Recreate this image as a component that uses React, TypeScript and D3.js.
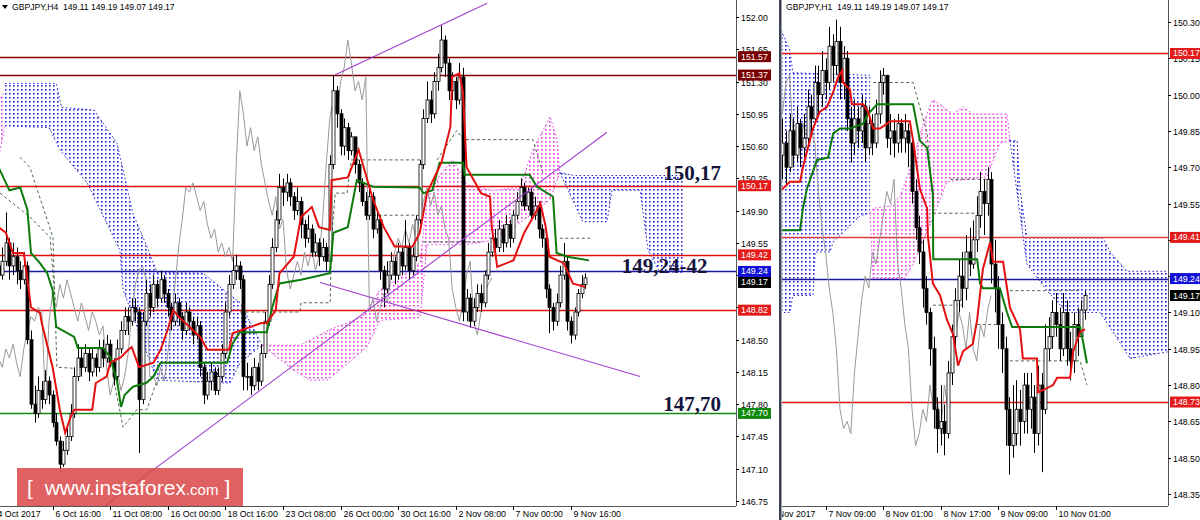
import * as d3 from "d3";
import { useEffect, useRef } from "react";

type Pt = [number, number];

// ---------- GBPJPY H4 (left panel) ----------
const h4FirstOpen = 149.4;
const h4Close = [
  149.30, 149.20, 149.35, 149.55, 149.30, 149.40, 149.25, 149.15, 149.30, 148.50,
  147.80, 147.70, 147.95, 147.85, 148.05, 147.90, 147.60, 147.40, 147.15, 147.30,
  147.45, 147.70, 148.10, 148.30, 148.20, 148.35, 148.15, 148.30, 148.20, 148.40,
  148.30, 148.45, 148.25, 148.10, 148.40, 148.60, 148.75, 148.70, 148.85, 148.80,
  147.85, 148.70, 149.00, 148.85, 149.10, 148.95, 149.15, 149.00, 148.85, 148.70,
  148.90, 148.75, 148.60, 148.80, 148.70, 148.55, 148.65, 148.20, 147.90, 148.05,
  148.15, 147.95, 148.10, 148.35, 148.80, 149.10, 149.25, 149.30, 149.15, 148.10,
  148.10, 148.00, 148.20, 148.05, 148.35, 148.70, 149.10, 149.50, 149.80, 150.15,
  150.10, 150.20, 150.05, 149.90, 150.00, 149.75, 149.60, 149.70, 149.45, 149.55,
  149.40, 149.50, 149.35, 150.40, 151.20, 150.95, 150.60, 150.80, 150.55, 150.70,
  150.40, 150.20, 150.00, 149.85, 150.05, 149.70, 149.80, 149.25, 149.05, 149.20,
  149.35, 149.20, 149.45, 149.30, 149.50, 149.25, 149.40, 149.80, 150.40, 150.90,
  151.10, 150.95, 151.30, 151.45, 151.75, 151.50, 151.20, 151.30, 151.10, 151.35,
  148.80, 148.95, 148.70, 148.85, 149.00, 148.90, 149.20, 149.45, 149.60, 149.50,
  149.70, 149.55, 149.75, 149.60, 149.85, 150.00, 150.15, 149.95, 150.10, 149.85,
  149.95, 149.70, 149.60, 149.05, 148.85, 148.70, 148.90, 149.20, 149.35, 148.70,
  148.55, 148.80, 149.00, 149.10, 149.17,
];
const h4High = [
  149.55, 149.40, 149.50, 149.88, 149.60, 149.55, 149.50, 149.35, 149.45, 149.35,
  148.60, 148.00, 148.10, 148.05, 148.17, 148.10, 147.95, 147.70, 147.45, 147.40,
  147.55, 147.80, 148.20, 148.45, 148.40, 148.45, 148.40, 148.40, 148.35, 148.50,
  148.50, 148.55, 148.50, 148.30, 148.50, 148.70, 148.85, 148.85, 148.95, 148.95,
  148.85, 148.80, 149.15, 149.10, 149.20, 149.15, 149.25, 149.20, 149.05, 148.90,
  149.00, 148.95, 148.80, 148.90, 148.85, 148.75, 148.75, 148.70, 148.25, 148.15,
  148.25, 148.20, 148.20, 148.45, 148.90, 149.20, 149.40, 149.42, 149.35, 149.20,
  148.25, 148.20, 148.30, 148.25, 148.45, 148.80, 149.20, 149.60, 149.90, 150.30,
  150.25, 150.30, 150.25, 150.10, 150.15, 150.05, 149.80, 149.85, 149.75, 149.65,
  149.60, 149.60, 149.55, 150.50, 151.37, 151.25, 151.00, 150.90, 150.85, 150.75,
  150.70, 150.45, 150.25, 150.10, 150.15, 150.10, 149.90, 149.85, 149.30, 149.35,
  149.45, 149.40, 149.55, 149.50, 149.80, 149.55, 149.50, 149.85, 150.45, 151.00,
  151.30, 151.20, 151.40, 151.60, 151.91, 151.80, 151.55, 151.40, 151.35, 151.50,
  151.45, 149.05, 149.00, 148.95, 149.10, 149.10, 149.25, 149.55, 149.70, 149.70,
  149.80, 149.75, 149.85, 149.80, 149.90, 150.10, 150.25, 150.20, 150.15, 150.15,
  150.05, 150.00, 149.75, 149.65, 149.10, 148.90, 149.00, 149.30, 149.55, 149.40,
  148.75, 148.85, 149.05, 149.20, 149.22,
];
const h4Low = [
  149.10, 149.05, 149.15, 149.30, 149.15, 149.20, 149.10, 149.05, 149.10, 148.45,
  147.75, 147.60, 147.65, 147.75, 147.80, 147.80, 147.55, 147.35, 147.09, 147.12,
  147.25, 147.40, 147.65, 148.05, 148.10, 148.15, 148.05, 148.10, 148.10, 148.15,
  148.20, 148.25, 148.20, 148.00, 148.05, 148.35, 148.55, 148.55, 148.65, 148.70,
  147.27, 147.80, 148.65, 148.75, 148.80, 148.85, 148.90, 148.90, 148.75, 148.60,
  148.65, 148.65, 148.50, 148.55, 148.60, 148.45, 148.50, 148.10, 147.80, 147.85,
  147.95, 147.90, 147.90, 148.05, 148.30, 148.75, 149.05, 149.15, 149.05, 147.95,
  147.95, 147.90, 147.95, 147.95, 148.00, 148.30, 148.65, 149.05, 149.45, 149.75,
  149.95, 150.00, 149.95, 149.80, 149.85, 149.60, 149.50, 149.55, 149.40, 149.40,
  149.30, 149.35, 149.25, 149.30, 150.35, 150.80, 150.50, 150.50, 150.45, 150.50,
  150.30, 150.10, 149.95, 149.80, 149.80, 149.60, 149.65, 149.15, 148.85, 149.00,
  149.15, 149.10, 149.15, 149.20, 149.25, 149.15, 149.20, 149.35, 149.75, 150.35,
  150.85, 150.85, 150.90, 151.20, 151.40, 151.35, 151.10, 151.10, 151.00, 151.05,
  148.70, 148.70, 148.63, 148.65, 148.80, 148.80, 148.85, 149.15, 149.40, 149.40,
  149.45, 149.45, 149.50, 149.50, 149.55, 149.80, 149.95, 149.90, 149.90, 149.80,
  149.80, 149.60, 149.50, 148.95, 148.57, 148.60, 148.65, 148.85, 149.15, 148.60,
  148.46, 148.50, 148.75, 148.95, 149.05,
];
const h4Tenkan: Pt[] = [
  [1, 149.72], [3, 149.66], [5, 149.44], [8, 149.44], [10, 148.85], [12.5, 148.79], [13, 148.68],
  [16, 148.2], [18, 147.74], [19.5, 147.49], [21, 147.66], [22, 147.74], [27, 147.74], [28, 148.03],
  [31, 148.1], [32, 148.25], [35, 148.31], [37, 148.39], [38, 148.42], [40, 148.2], [44, 148.25],
  [46, 148.39], [48, 148.61], [49.5, 148.82], [51, 148.75], [57, 148.53], [59, 148.39], [65, 148.39],
  [66, 148.57], [74, 148.68], [75.5, 148.68], [78, 148.82], [79, 149.22], [83, 149.4], [85, 149.83],
  [88, 149.94], [90, 149.72], [93, 149.69], [93.5, 150.23], [98, 150.26], [101, 150.56], [105, 150.02],
  [108, 149.72], [111, 149.51], [116, 149.51], [118, 149.66], [120, 150.09], [124, 150.42],
  [126.5, 150.81], [127, 151.35], [129, 151.39], [130, 151.18], [131, 150.37], [135, 150.09],
  [137.5, 150.05], [138, 149.72], [139.5, 149.29], [144, 149.36], [147, 149.66], [149.5, 149.83],
  [151.5, 149.98], [153, 149.72], [154, 149.4], [158, 149.33], [160.5, 149.11], [164, 149.07],
];
const h4Kijun: Pt[] = [
  [1, 150.37], [4, 150.12], [7, 150.15], [9, 149.91], [10, 149.44], [12.5, 149.33], [14.5, 149.22],
  [16, 149.04], [17, 148.64], [22, 148.53], [23, 148.41], [30, 148.41], [32, 148.31], [34, 148.03],
  [35, 147.77], [36, 147.9], [38.3, 147.99], [42, 148.03], [44, 148.1], [46, 148.25], [64.5, 148.25],
  [66, 148.46], [68, 148.58], [75.5, 148.58], [77, 148.85], [79, 149.11], [85, 149.15], [93, 149.22],
  [94, 149.66], [98, 149.72], [100.5, 150.23], [105, 150.16], [118, 150.15], [119, 150.09],
  [121.5, 150.12], [123.5, 150.42], [130, 150.42], [130.5, 150.29], [148.5, 150.29], [150.5, 150.16],
  [155, 150.05], [156, 149.44], [159, 149.4], [165, 149.36],
];
const h4CloudPinkA = { top: [[-2, 150.9], [2.8, 151.2]] as Pt[], bot: [[-2, 149.9], [2.8, 150.82]] as Pt[] };
const h4CloudBlueA = {
  top: [[2.8, 151.28], [17, 151.28], [18.5, 151.02], [27.5, 150.99], [33.9, 150.63], [38.3, 149.87],
    [42.2, 149.51], [45, 149.23], [57.8, 149.22], [68.1, 148.9], [74.2, 148.44]] as Pt[],
  bot: [[2.8, 150.82], [15, 150.8], [18, 150.56], [25.6, 150.2], [34.7, 149.47], [35.6, 149.04],
    [45, 148.06], [65.3, 148.03], [68.1, 148.25], [74.2, 148.44]] as Pt[],
};
const h4CloudPinkB = {
  top: [[74.2, 148.44], [84.7, 148.44], [93.1, 148.61], [102.2, 148.75], [106.9, 149.04], [112.5, 149.17],
    [118.1, 149.34], [120, 150.02], [123.6, 150.29], [127.2, 150.45], [131.1, 150.18], [138.3, 150.12],
    [145.8, 150.15], [149.4, 150.56], [154.2, 150.92], [156.1, 150.67], [156.9, 150.31]] as Pt[],
  bot: [[74.2, 148.44], [82.8, 148.17], [87.5, 148.06], [92.2, 148.06], [95.8, 148.17], [103.3, 148.42],
    [106.9, 148.71], [118.1, 148.74], [120, 149.53], [131.1, 149.53], [138.3, 149.58], [143.9, 149.71],
    [148.6, 149.85], [154.2, 150.02], [156.9, 150.31]] as Pt[],
};
const h4CloudBlueB = {
  top: [[156.9, 150.31], [161.1, 150.28], [191.1, 150.28]] as Pt[],
  bot: [[156.9, 150.31], [163.3, 149.78], [170, 149.78], [171.4, 150.12], [179.2, 150.12], [181.4, 149.47],
    [184.7, 149.23], [191.1, 149.23]] as Pt[],
};
const h4Dashed: Pt[][] = [
  [[6.9, 150.48], [9.7, 150.37], [16.1, 149.61], [17.2, 148.2], [21.7, 148.19]],
  [[1.4, 150.09], [9.7, 149.83], [15.3, 149.61], [16.7, 148.93]],
  [[32.8, 148.1], [35.6, 147.55], [39.4, 147.74], [42.2, 147.74], [45, 148.06]],
  [[68.1, 148.8], [84.7, 148.8], [85, 148.9], [93.1, 148.9], [93.5, 149.58], [94.5, 150.09], [97.8, 150.09],
    [99, 150.45], [118.1, 150.45]],
  [[105, 149.85], [118.1, 149.85]],
  [[118.9, 149.56], [134.7, 149.56]],
  [[122.8, 150.45], [128.3, 150.77], [130, 150.67], [149.4, 150.67], [152.2, 150.31]],
  [[156.9, 149.6], [165.3, 149.6]],
];
const h4Trend: Pt[][] = [
  [[94.4, 151.37], [136.7, 152.15]],
  [[30.6, 146.7], [170, 150.75]],
  [[90.3, 149.12], [179.2, 148.1]],
];
const h4Levels = [151.57, 151.37, 150.17, 149.42, 149.24, 148.82, 147.7];
const h4LevelColors = ["#800000", "#800000", "#e01010", "#e01010", "#1a1a9a", "#e01010", "#138a13"];
const h4Tags = [151.57, 151.37, 150.17, 149.42, 149.24, 149.17, 148.82, 147.7];
const h4TagColors = ["#7a0000", "#7a0000", "#e41b1b", "#e41b1b", "#1010d8", "#000000", "#e41b1b", "#108a10"];
const h4Ticks = [152.0, 151.65, 151.3, 150.95, 150.6, 150.25, 149.9, 149.55, 149.2, 148.85, 148.5, 148.15, 147.8, 147.45, 147.1, 146.75];
const h4DateIdx = [0, 16, 32, 48, 64, 80, 96, 112, 128, 144, 160];
const h4DateText = ["4 Oct 2017", "6 Oct 16:00", "11 Oct 08:00", "16 Oct 00:00", "18 Oct 16:00", "23 Oct 08:00",
  "26 Oct 00:00", "30 Oct 16:00", "2 Nov 08:00", "7 Nov 00:00", "9 Nov 16:00"];
const h4Notes = ["150,17", "149,24-42", "147,70"];
const h4NoteAt: Pt[] = [[185.6, 150.23], [174.1, 149.22], [185.6, 147.73]];

// ---------- GBPJPY H1 (right panel), bars from index -12 ----------
const h1Start = -12;
const h1FirstOpen = 149.75;
const h1Close = [
  149.80, 149.70, 149.85, 149.75, 149.88, 149.78, 149.82, 149.95, 149.90, 150.05,
  150.00, 150.10, 150.05, 150.20, 150.12, 150.22, 150.05, 150.15, 149.90, 149.80,
  149.90, 149.85, 149.95, 149.78, 149.88, 149.80, 149.92, 150.05, 150.08, 149.82,
  149.85, 149.80, 149.88, 149.82, 149.85, 149.80, 149.60, 149.45, 149.35, 149.20,
  149.10, 148.95, 148.70, 148.62, 148.65, 148.60, 148.85, 149.00, 149.15, 149.25,
  149.20, 149.35, 149.30, 149.40, 149.50, 149.60, 149.55, 149.65, 149.30, 149.20,
  149.05, 148.95, 148.70, 148.55, 148.60, 148.70, 148.65, 148.80, 148.70, 148.75,
  148.60, 148.80, 148.70, 148.95, 149.00, 149.10, 149.05, 148.95, 149.10, 148.95,
  148.90, 149.05, 149.00, 149.11, 149.17,
];
const h1High = [
  149.90, 149.85, 149.92, 149.90, 149.95, 149.90, 149.92, 150.02, 150.00, 150.12,
  150.12, 150.18, 150.15, 150.28, 150.25, 150.31, 150.28, 150.20, 150.18, 149.95,
  149.98, 149.95, 150.00, 149.98, 149.95, 149.92, 149.98, 150.10, 150.11, 150.08,
  149.92, 149.90, 149.92, 149.90, 149.92, 149.88, 149.82, 149.65, 149.50, 149.40,
  149.25, 149.12, 149.00, 148.75, 148.80, 148.72, 148.90, 149.05, 149.20, 149.32,
  149.35, 149.42, 149.45, 149.48, 149.58, 149.68, 149.65, 149.70, 149.68, 149.40,
  149.25, 149.10, 149.00, 148.75, 148.80, 148.82, 148.78, 148.85, 148.85, 148.85,
  148.80, 148.88, 148.85, 149.05, 149.08, 149.15, 149.18, 149.12, 149.18, 149.15,
  149.02, 149.10, 149.12, 149.15, 149.19,
];
const h1Low = [
  149.65, 149.62, 149.68, 149.70, 149.72, 149.70, 149.74, 149.80, 149.85, 149.88,
  149.92, 149.95, 149.98, 150.02, 150.05, 150.08, 149.98, 149.98, 149.85, 149.72,
  149.75, 149.78, 149.80, 149.72, 149.75, 149.75, 149.78, 149.88, 150.00, 149.78,
  149.75, 149.74, 149.76, 149.76, 149.76, 149.70, 149.55, 149.40, 149.30, 149.12,
  149.05, 148.88, 148.62, 148.52, 148.55, 148.51, 148.58, 148.80, 148.95, 149.10,
  149.12, 149.15, 149.25, 149.28, 149.35, 149.45, 149.42, 149.50, 149.22, 149.10,
  148.95, 148.85, 148.55, 148.43, 148.50, 148.55, 148.55, 148.60, 148.60, 148.62,
  148.52, 148.55, 148.44, 148.68, 148.90, 148.95, 149.00, 148.90, 148.92, 148.88,
  148.82, 148.85, 148.92, 149.00, 149.07,
];
const h1Tenkan: Pt[] = [
  [-12.7, 149.6], [-9.9, 149.64], [-7.1, 149.64], [-6.3, 149.7], [-3.5, 149.86], [-1.6, 149.93],
  [0.4, 149.95], [2.1, 150.01], [3.4, 150.07], [4.6, 150.1], [4.8, 150.05], [6.8, 150.02], [7.3, 149.96],
  [10.4, 149.96], [11.8, 149.93], [13.2, 149.86], [15.1, 149.86], [17.1, 149.88], [17.9, 149.89],
  [23.4, 149.89], [24.3, 149.81], [26.2, 149.61], [28.2, 149.53], [28.4, 149.42], [29.8, 149.22],
  [31.8, 149.17], [33.7, 149.07], [35.4, 149.01], [36.8, 148.88], [38.2, 148.94], [40.9, 148.97],
  [42.1, 149.07], [43.7, 149.28], [45.7, 149.39], [46.5, 149.31], [49.3, 149.31], [50.4, 149.2],
  [51.2, 149.12], [54, 149.03], [54.8, 148.91], [58.7, 148.91], [59, 148.77], [63.2, 148.8],
  [64.3, 148.83], [67.9, 148.83], [68.8, 148.94], [70.7, 149.02], [72.1, 149.03],
];
const h1Kijun: Pt[] = [
  [-12.7, 149.44], [-7.1, 149.44], [-6.3, 149.53], [-5.2, 149.61], [-2.4, 149.73], [0.7, 149.74],
  [2.1, 149.84], [4, 149.86], [6.8, 149.86], [10.4, 149.88], [11.8, 149.92], [14.3, 149.96], [24.3, 149.96],
  [26.2, 149.81], [28.2, 149.78], [29.8, 149.59], [29.9, 149.32], [42.1, 149.32], [42.9, 149.22],
  [43.7, 149.2], [48.4, 149.2], [50.4, 149.1], [51.8, 149.04], [70.7, 149.04], [71.5, 148.98], [72.6, 148.89],
];
const h1CloudBlueA = {
  top: [[-12.7, 150.28], [-9.9, 150.18], [-9.1, 150.09], [12.3, 150.08]] as Pt[],
  bot: [[-12.7, 149.1], [-9.9, 149.1], [-9.1, 149.17], [-3.5, 149.17], [-2.9, 149.35], [1.2, 149.35],
    [2.1, 149.39], [9.6, 149.5], [12.3, 149.51]] as Pt[],
};
const h1CloudPink = {
  top: [[12.3, 149.51], [13.2, 149.53], [17.9, 149.54], [20.7, 149.58], [24.3, 149.73], [27.1, 149.88],
    [29.8, 149.98], [32.6, 149.95], [35.4, 149.92], [38.2, 149.95], [40.9, 149.92], [50.4, 149.92], [51.2, 149.81]] as Pt[],
  bot: [[12.3, 149.51], [13.2, 149.24], [22, 149.24], [24.3, 149.3], [29.8, 149.49], [33.7, 149.64],
    [44.8, 149.66], [48.4, 149.8], [51.2, 149.81]] as Pt[],
};
const h1CloudBlueB = {
  top: [[51.2, 149.81], [53.2, 149.81], [54, 149.61], [55.9, 149.41], [77, 149.41], [79, 149.35],
    [83.7, 149.27], [96, 149.27]] as Pt[],
  bot: [[51.2, 149.81], [55.9, 149.3], [61.5, 149.19], [67.1, 149.1], [76.2, 149.1], [79.8, 149.02],
    [84.6, 148.91], [96, 148.94]] as Pt[],
};
const h1Dashed: Pt[][] = [
  [[13.2, 150.05], [24.3, 150.05], [28.2, 149.84], [29.8, 149.56]],
  [[34.6, 149.65], [44.8, 149.65]],
  [[29.8, 149.51], [42.1, 149.51]],
  [[29.8, 149.13], [38.2, 149.13]],
  [[42.1, 149.05], [47.6, 149.05]],
  [[51.2, 149.19], [70.7, 149.19]],
  [[51.2, 148.9], [70.7, 148.9], [72.6, 148.8]],
];
const h1Levels = [150.17, 149.41, 149.24, 148.73];
const h1LevelColors = ["#e01010", "#e04040", "#1a1a9a", "#e01010"];
const h1Tags = [150.17, 149.41, 149.24, 149.17, 148.73];
const h1TagColors = ["#e41b1b", "#e41b1b", "#1010d8", "#000000", "#e41b1b"];
const h1Ticks = [150.3, 150.15, 150.0, 149.85, 149.7, 149.55, 149.4, 149.25, 149.1, 148.95, 148.8, 148.65, 148.5, 148.35];
const h1DateIdx = [-16, 0, 16, 32, 48, 64];
const h1DateText = ["6 Nov 2017", "7 Nov 09:00", "8 Nov 01:00", "8 Nov 17:00", "9 Nov 09:00", "10 Nov 01:00"];

const CHIKOU_SHIFT = 26;
const FONT = "'Liberation Sans', Arial, sans-serif";
const BLUE_DOT = "#2323d8";
const PINK_DOT = "#e23ee2";

function drawPanel(svg: any, P: any) {
  const x = d3.scaleLinear().domain(P.xDomain).range(P.xRange);
  const y = d3.scaleLinear().domain(P.yDomain).range(P.yRange);
  const clipId = "clip-" + P.id;
  svg.select("defs").append("clipPath").attr("id", clipId)
    .append("rect").attr("x", P.left).attr("y", 0).attr("width", P.right - P.left).attr("height", P.bottom);
  const g = svg.append("g").attr("clip-path", `url(#${clipId})`);
  const line = d3.line<Pt>().x((d) => x(d[0])).y((d) => y(d[1]));

  // ichimoku clouds (dotted hatch)
  P.clouds.forEach((c: any) => {
    const col = c.pink ? PINK_DOT : BLUE_DOT;
    const poly = [...c.top, ...c.bot.slice().reverse()];
    g.append("path").attr("d", line(poly) + "Z").attr("fill", `url(#${c.pink ? "dotPink" : "dotBlue"})`);
    [c.top, c.bot].forEach((edge: Pt[]) =>
      g.append("path").attr("d", line(edge)).attr("fill", "none").attr("stroke", col)
        .attr("stroke-width", 1).attr("stroke-dasharray", "1.5,2.5"));
  });

  // dashed span lines
  P.dashed.forEach((d: Pt[]) =>
    g.append("path").attr("d", line(d)).attr("fill", "none").attr("stroke", "#4f6a4f")
      .attr("stroke-width", 1).attr("stroke-dasharray", "3,2.5"));

  // horizontal levels
  P.levels.forEach((v: number, k: number) =>
    g.append("line").attr("x1", P.left).attr("x2", P.right).attr("y1", Math.round(y(v)) + 0.5)
      .attr("y2", Math.round(y(v)) + 0.5).attr("stroke", P.levelColors[k]).attr("stroke-width", 1.3));

  // chikou span: closes drawn 26 bars back
  const chikou: Pt[] = P.close.slice(CHIKOU_SHIFT).map((c: number, j: number) => [P.start + j, c]);
  g.append("path").attr("d", line(chikou)).attr("fill", "none").attr("stroke", "#999").attr("stroke-width", 1);

  // candles
  const cg = g.append("g");
  P.close.forEach((c: number, j: number) => {
    const o = j === 0 ? P.firstOpen : P.close[j - 1];
    const cx = Math.round(x(P.start + j)) + 0.5;
    cg.append("line").attr("x1", cx).attr("x2", cx).attr("y1", y(P.high[j])).attr("y2", y(P.low[j]))
      .attr("stroke", "#000").attr("stroke-width", 1);
    const top = y(Math.max(o, c));
    const h = Math.max(1, Math.abs(y(o) - y(c)));
    cg.append("rect").attr("x", cx - 1.5).attr("y", top).attr("width", 3).attr("height", h)
      .attr("fill", c >= o ? "#fff" : "#000").attr("stroke", "#000").attr("stroke-width", 0.8);
  });

  // tenkan / kijun
  g.append("path").attr("d", line(P.kijun)).attr("fill", "none").attr("stroke", "#0b7a0b").attr("stroke-width", 2);
  g.append("path").attr("d", line(P.tenkan)).attr("fill", "none").attr("stroke", "#e41010").attr("stroke-width", 2);

  // trend lines
  P.trend.forEach((t: Pt[]) =>
    g.append("path").attr("d", line(t)).attr("stroke", "#a040d0").attr("stroke-width", 1.1).attr("fill", "none"));

  // notes
  P.notes.forEach((s: string, k: number) =>
    g.append("text").attr("x", x(P.noteAt[k][0])).attr("y", y(P.noteAt[k][1])).text(s)
      .attr("font-family", "'Liberation Serif', 'Times New Roman', serif").attr("font-weight", "bold")
      .attr("font-size", 21).attr("fill", "#14143c"));

  // axes
  const ax = svg.append("g").attr("font-family", FONT).attr("font-size", 8.8).attr("fill", "#000");
  ax.append("line").attr("x1", P.right + 0.5).attr("x2", P.right + 0.5).attr("y1", 0).attr("y2", P.bottom)
    .attr("stroke", "#555");
  ax.append("line").attr("x1", P.left).attr("x2", P.right).attr("y1", P.bottom + 0.5).attr("y2", P.bottom + 0.5)
    .attr("stroke", "#555");
  P.ticks.forEach((v: number) => {
    const ty = Math.round(y(v)) + 0.5;
    ax.append("line").attr("x1", P.right).attr("x2", P.right + 3).attr("y1", ty).attr("y2", ty).attr("stroke", "#000");
    // labels fully hidden behind a price tag are not drawn
    const hidden = P.tags.some((t: number) => Math.abs(y(t) - ty) < 5);
    if (!hidden) ax.append("text").attr("x", P.right + 5).attr("y", ty + 3.2).text(v.toFixed(2));
  });
  const dclip = "dclip-" + P.id;
  svg.select("defs").append("clipPath").attr("id", dclip)
    .append("rect").attr("x", P.left).attr("y", P.bottom).attr("width", P.right - P.left + 40).attr("height", 20);
  const dg = ax.append("g").attr("clip-path", `url(#${dclip})`);
  P.dateIdx.forEach((i: number, k: number) => {
    const tx = Math.round(x(i)) + 0.5;
    dg.append("line").attr("x1", tx).attr("x2", tx).attr("y1", P.bottom).attr("y2", P.bottom + 4).attr("stroke", "#000");
    dg.append("text").attr("x", tx + 2).attr("y", P.bottom + 11).text(P.dateText[k]);
  });

  // price tags, pushed down when they would collide
  let lastBottom = -Infinity;
  P.tags.forEach((v: number, k: number) => {
    let ty = y(v);
    if (ty - 5.5 < lastBottom) ty = lastBottom + 5.5;
    lastBottom = ty + 5.5;
    ax.append("rect").attr("x", P.right + 2).attr("y", ty - 5.5).attr("width", P.tagW).attr("height", 11)
      .attr("fill", P.tagColors[k]);
    ax.append("text").attr("x", P.right + 5).attr("y", ty + 3).attr("fill", "#fff").text(v.toFixed(2));
  });

  // header
  svg.append("text").attr("x", P.left + P.headerX).attr("y", 10).attr("font-family", FONT)
    .attr("font-size", 8.6).attr("fill", "#000").attr("xml:space", "preserve").text(P.header);
}

export default function App() {
  const ref = useRef<SVGSVGElement>(null);

  useEffect(() => {
    if (!ref.current) return;
    const svg = d3.select(ref.current);
    svg.selectAll("*").remove();
    svg.append("rect").attr("width", 1200).attr("height", 520).attr("fill", "#fff");
    const defs = svg.append("defs");
    [["dotBlue", BLUE_DOT], ["dotPink", PINK_DOT]].forEach(([id, c]) => {
      const pat = defs.append("pattern").attr("id", id).attr("width", 4).attr("height", 4)
        .attr("patternUnits", "userSpaceOnUse");
      pat.append("rect").attr("x", 1).attr("y", 1).attr("width", 1.6).attr("height", 1.6).attr("fill", c);
    });

    drawPanel(svg, {
      id: "h4", left: 0, right: 736, bottom: 506, xDomain: [0, 160], xRange: [-5, 571],
      yDomain: [146.75, 152.0], yRange: [501, 17], start: 0, firstOpen: h4FirstOpen,
      close: h4Close, high: h4High, low: h4Low, tenkan: h4Tenkan, kijun: h4Kijun,
      clouds: [
        { ...h4CloudPinkA, pink: true }, { ...h4CloudBlueA, pink: false },
        { ...h4CloudPinkB, pink: true }, { ...h4CloudBlueB, pink: false },
      ],
      dashed: h4Dashed, trend: h4Trend, levels: h4Levels, levelColors: h4LevelColors,
      tags: h4Tags, tagColors: h4TagColors, tagW: 33, ticks: h4Ticks, dateIdx: h4DateIdx, dateText: h4DateText,
      notes: h4Notes, noteAt: h4NoteAt, headerX: 12, header: "GBPJPY,H4  149.11 149.19 149.07 149.17",
    });
    drawPanel(svg, {
      id: "h1", left: 782, right: 1168, bottom: 506, xDomain: [0, 64], xRange: [825.6, 1056],
      yDomain: [148.35, 150.3], yRange: [494, 22], start: h1Start, firstOpen: h1FirstOpen,
      close: h1Close, high: h1High, low: h1Low, tenkan: h1Tenkan, kijun: h1Kijun,
      clouds: [
        { ...h1CloudBlueA, pink: false }, { ...h1CloudPink, pink: true }, { ...h1CloudBlueB, pink: false },
      ],
      dashed: h1Dashed, trend: [], levels: h1Levels, levelColors: h1LevelColors,
      tags: h1Tags, tagColors: h1TagColors, tagW: 30, ticks: h1Ticks, dateIdx: h1DateIdx, dateText: h1DateText,
      notes: [], noteAt: [], headerX: 4, header: "GBPJPY,H1  149.11 149.19 149.07 149.17",
    });

    // header triangle
    svg.append("path").attr("d", "M2,5 L8,5 L5,9 Z").attr("fill", "#000");
    // panel separator
    svg.append("rect").attr("x", 779).attr("y", 0).attr("width", 2.5).attr("height", 520).attr("fill", "#3a3f52");

    // watermark
    const wm = svg.append("g");
    wm.append("rect").attr("x", 17).attr("y", 468).attr("width", 226).attr("height", 38)
      .attr("fill", "#d94545").attr("opacity", 0.85);
    const t = wm.append("text").attr("x", 27).attr("y", 495).attr("fill", "#fff")
      .attr("font-family", FONT).attr("font-size", 21);
    t.append("tspan").text("[ ");
    t.append("tspan").attr("dx", 6).text("www.instaforex");
    t.append("tspan").attr("font-size", 15).text(".com");
    t.append("tspan").attr("dx", 6).text("]");
  }, []);

  return (
    <svg ref={ref} width={1200} height={520}
      style={{ position: "absolute", left: 0, top: 0, display: "block" }} />
  );
}
